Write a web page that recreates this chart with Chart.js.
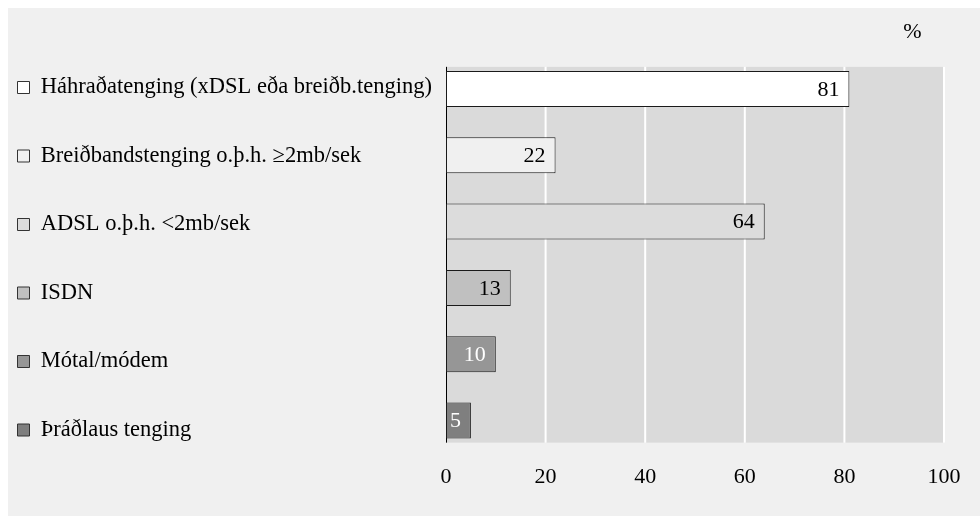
<!DOCTYPE html>
<html><head><meta charset="utf-8">
<script src="https://cdn.jsdelivr.net/npm/chart.js@4"></script>
<style>
html,body{margin:0;padding:0;background:#ffffff;}
#wrap{position:absolute;left:8px;top:8px;width:972px;height:508px;background:#f0f0f0;}
canvas{display:block;}
</style></head><body>
<div id="wrap"><canvas id="c" width="972" height="508"></canvas></div>
<script>
// ---- data ----
const categories = [
  'Háhraðatenging (xDSL eða breiðb.tenging)',
  'Breiðbandstenging o.þ.h. ≥2mb/sek',
  'ADSL o.þ.h. <2mb/sek',
  'ISDN',
  'Mótal/módem',
  'Þráðlaus tenging'
];
const values = [81, 22, 64, 13, 10, 5];
const xTickValues = [0, 20, 40, 60, 80, 100];
const unitLabel = '%';

// ---- styles ----
const FONT = "'Liberation Serif','Times New Roman',serif";
const FS = 22;
const LFS = 22.5;
const BOX = 12;
const barColors = ['#ffffff', '#f0f0f0', '#dcdcdc', '#c0c0c0', '#969696', '#7f7f7f'];
const valueColors = ['#000000', '#000000', '#000000', '#000000', '#ffffff', '#ffffff'];
const STEP = 68.5;
const LEG_PAD = STEP - LFS;
const PAD_LEFT = 9.5 - LEG_PAD;
const PAD_TOP = 11 + LFS / 2;
const PLOT_TOP = 47.85;
const PLOT_LEFT = 438;

const decor = {
  id: 'decor',
  beforeDatasetsDraw(chart) {
    const {ctx, chartArea: a, scales: {x}} = chart;
    const top = a.top + 11, bottom = a.bottom - 11;
    ctx.save();
    ctx.fillStyle = '#dadada';
    ctx.fillRect(a.left, top, a.right - a.left + 1, bottom - top);
    ctx.strokeStyle = '#ffffff';
    ctx.lineWidth = 2;
    x.ticks.forEach(t => {
      if (t.value === 0) return;
      const px = x.getPixelForValue(t.value);
      ctx.beginPath(); ctx.moveTo(px, top); ctx.lineTo(px, bottom); ctx.stroke();
    });
    ctx.strokeStyle = '#000000';
    ctx.lineWidth = 1;
    const x0 = Math.round(x.getPixelForValue(0)) + 0.5;
    ctx.beginPath(); ctx.moveTo(x0, top); ctx.lineTo(x0, bottom); ctx.stroke();
    ctx.restore();
  },
  afterDatasetsDraw(chart) {
    const {ctx, chartArea: a} = chart;
    const meta = chart.getDatasetMeta(0);
    ctx.save();
    ctx.font = FS + 'px ' + FONT;
    ctx.textAlign = 'right';
    ctx.textBaseline = 'middle';
    meta.data.forEach((bar, i) => {
      ctx.fillStyle = valueColors[i];
      ctx.fillText(String(chart.data.datasets[0].data[i]), bar.x - 10, bar.y + 1);
    });
    ctx.fillStyle = '#000000';
    ctx.textAlign = 'center';
    ctx.fillText(unitLabel, a.right - 31.5, a.top - 24);
    ctx.restore();
  }
};

new Chart(document.getElementById('c'), {
  type: 'bar',
  data: {
    labels: categories,
    datasets: [{
      data: values,
      backgroundColor: barColors,
      borderColor: '#1a1a1a',
      borderWidth: 1,
      borderSkipped: false,
      categoryPercentage: 1,
      barPercentage: 0.543
    }]
  },
  options: {
    indexAxis: 'y',
    responsive: false,
    animation: false,
    layout: { padding: { left: PAD_LEFT, top: PAD_TOP, right: 36, bottom: 0 } },
    plugins: {
      tooltip: { enabled: false },
      title: { display: true, text: '', font: { size: 10, lineHeight: 1 }, padding: { top: 0, bottom: PLOT_TOP - PAD_TOP - 10 } },
      legend: {
        display: true,
        position: 'left',
        align: 'start',
        maxWidth: 520,
        onClick: null,
        labels: {
          boxWidth: BOX,
          boxHeight: BOX,
          padding: LEG_PAD,
          color: '#000000',
          font: { family: FONT, size: LFS },
          generateLabels: (chart) => chart.data.labels.map((l, i) => ({
            text: l,
            fillStyle: barColors[i],
            strokeStyle: '#333333',
            lineWidth: 1,
            hidden: false,
            index: i,
            fontColor: '#000000'
          }))
        }
      }
    },
    scales: {
      x: {
        type: 'linear',
        min: 0,
        max: 100,
        afterBuildTicks: s => { s.ticks = xTickValues.map(v => ({ value: v })); },
        grid: { display: false },
        border: { display: false },
        ticks: { color: '#000000', font: { family: FONT, size: FS }, padding: 2, maxRotation: 0 },
        afterFit: s => { s.height = 508 - 445.65; }
      },
      y: {
        type: 'category',
        display: true,
        grid: { display: false },
        border: { display: false },
        ticks: { display: false },
        afterFit: s => {
          const lw = s.chart.legend ? s.chart.legend.width : 0;
          s.width = Math.max(0, PLOT_LEFT - PAD_LEFT - lw);
        }
      }
    }
  },
  plugins: [decor]
});
</script>
</body></html>
